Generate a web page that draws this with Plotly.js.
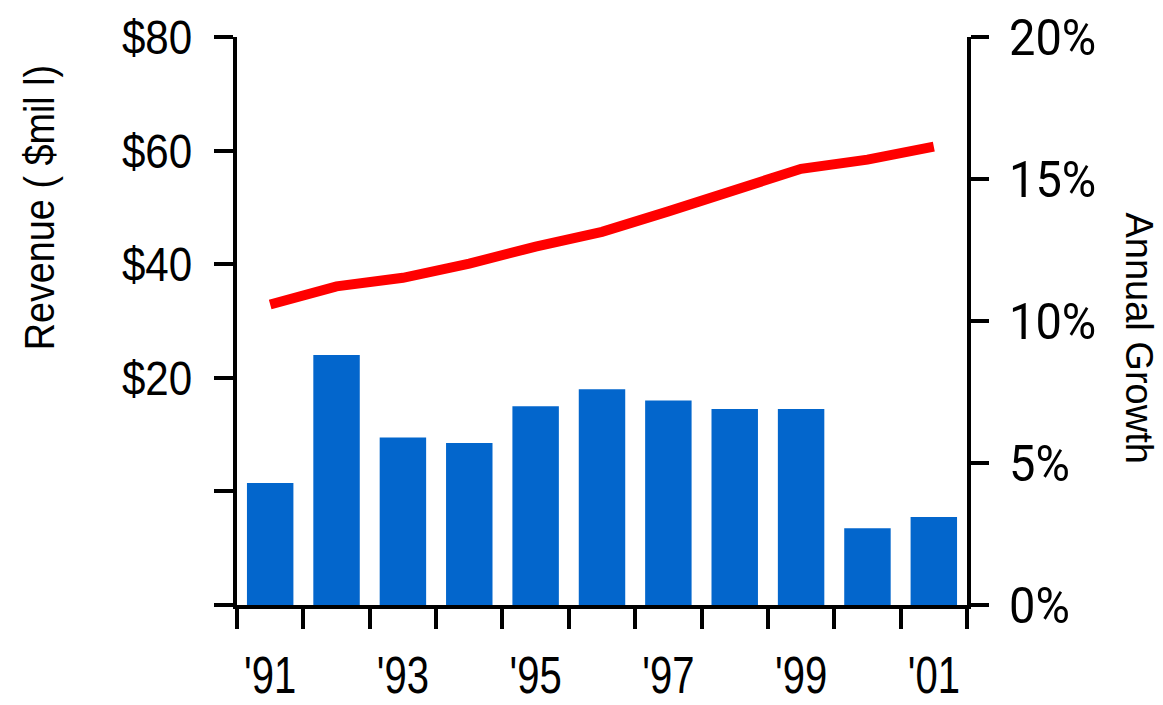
<!DOCTYPE html>
<html>
<head>
<meta charset="utf-8">
<script src="https://cdn.plot.ly/plotly-3.0.1.min.js"></script>
<style>html,body{margin:0;padding:0;background:#fff;}#chart{width:1163px;height:705px;}</style>
</head>
<body>
<div id="chart"></div>
<script>
// Data
const years = ["'91","'92","'93","'94","'95","'96","'97","'98","'99","'00","'01"];
const growthPct = [4.3, 8.8, 5.9, 5.7, 7.0, 7.6, 7.2, 6.9, 6.9, 2.7, 3.1];
const revenue = [32.9, 36.1, 37.6, 40.1, 43.1, 45.7, 49.3, 53.1, 56.8, 58.4, 60.7];
const xTickText = ["'91","","'93","","'95","","'97","","'99","","'01"];
const leftTickVals = [-20, 0, 20, 40, 60, 80];
const leftTickText = ["", "", "$20", "$40", "$60", "$80"];
const rightTickVals = [0, 5, 10, 15, 20];
const rightTickText = ["0%", "5%", "10%", "15%", "20%"];

const sans = "Liberation Sans, Arial, sans-serif";

const traces = [
  {
    type: 'bar', x: years, y: growthPct, yaxis: 'y2',
    marker: {color: '#0366CC', line: {width: 0}},
    hoverinfo: 'x+y'
  },
  {
    type: 'scatter', mode: 'lines', x: years, y: revenue, yaxis: 'y',
    line: {color: '#FF0000', width: 10},
    hoverinfo: 'x+y'
  }
];

const layout = {
  width: 1163, height: 705,
  margin: {l: 237, r: 196, t: 37, b: 100},
  paper_bgcolor: '#fff', plot_bgcolor: '#fff',
  showlegend: false,
  bargap: 0.3,
  xaxis: {
    type: 'category', categoryorder: 'array', categoryarray: years,
    tickvals: years, ticktext: xTickText, tickangle: 0,
    tickson: 'boundaries',
    ticks: 'outside', ticklen: 20, tickwidth: 4, tickcolor: '#000',
    showline: true, linewidth: 4, linecolor: '#000',
    showgrid: false, zeroline: false,
    tickfont: {family: sans, size: 52, color: '#000'},
    ticklabelstandoff: 22
  },
  yaxis: {
    range: [-20, 80], tickvals: leftTickVals, ticktext: leftTickText,
    ticks: 'outside', ticklen: 19, tickwidth: 4, tickcolor: '#000',
    showline: true, linewidth: 4, linecolor: '#000',
    showgrid: false, zeroline: false,
    tickfont: {family: sans, size: 49, color: '#000'},
    ticklabelstandoff: 12
  },
  yaxis2: {
    overlaying: 'y', side: 'right',
    range: [0, 20], tickvals: rightTickVals, ticktext: rightTickText,
    ticks: 'outside', ticklen: 18, tickwidth: 4, tickcolor: '#000',
    showline: true, linewidth: 4, linecolor: '#000',
    showgrid: false, zeroline: false,
    tickfont: {family: 'Roboto, Noto Sans, sans-serif', size: 50, color: '#000'},
    ticklabelstandoff: 10
  },
  annotations: [
    {
      text: 'Revenue ( $mil l)', xref: 'paper', yref: 'paper',
      x: -0.27, y: 0.7, xanchor: 'center', yanchor: 'middle',
      textangle: -90, showarrow: false,
      font: {family: sans, size: 42, color: '#000'}
    },
    {
      text: 'Annual Growth', xref: 'paper', yref: 'paper',
      x: 1.235, y: 0.47, xanchor: 'center', yanchor: 'middle',
      textangle: 90, showarrow: false,
      font: {family: sans, size: 38, color: '#000'}
    }
  ]
};

// Narrow the glyphs horizontally (the reference uses a condensed face)
function squeeze(el, sx) {
  const bb = el.getBBox();
  const anchor = el.getAttribute('text-anchor') || 'start';
  let ax = bb.x;
  if (anchor === 'end') ax = bb.x + bb.width;
  else if (anchor === 'middle') ax = bb.x + bb.width / 2;
  const t = el.getAttribute('transform') || '';
  el.setAttribute('transform', t + ' translate(' + ax + ',0) scale(' + sx + ',1) translate(' + (-ax) + ',0)');
}

Plotly.newPlot('chart', traces, layout, {displayModeBar: false, staticPlot: true}).then(function (gd) {
  gd.querySelectorAll('.xtick text').forEach(function (el) { squeeze(el, 0.77); });
  gd.querySelectorAll('.ytick text').forEach(function (el) { squeeze(el, 0.86); });
  gd.querySelectorAll('.y2tick text').forEach(function (el) { squeeze(el, 0.94); });
  const ann = gd.querySelectorAll('.annotation-text');
  if (ann[0]) squeeze(ann[0], 0.9);
});
</script>
</body>
</html>
